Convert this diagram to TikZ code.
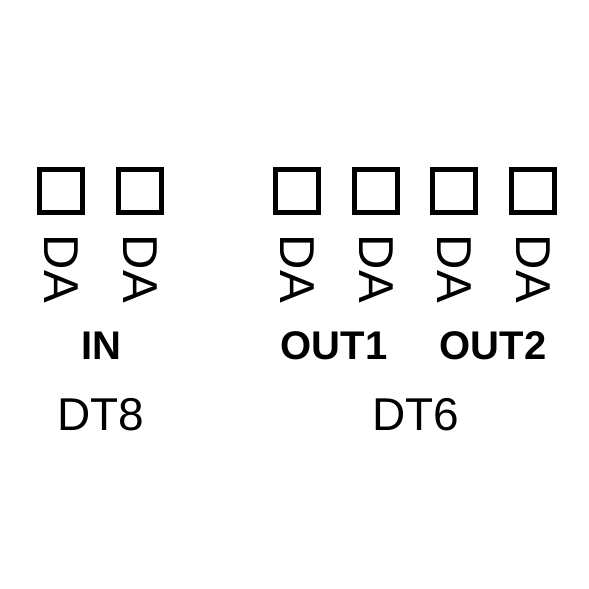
\documentclass[tikz,border=0pt]{standalone}
\usepackage{fontspec}
\setmainfont{Liberation Sans}
\usetikzlibrary{positioning}

\begin{document}
\begin{tikzpicture}[x=1pt,y=-1pt,
    pad/.style={draw, line width=5pt, minimum size=43pt, inner sep=0pt},
    padlabel/.style={rotate=-90, font=\fontsize{49}{49}\selectfont, inner sep=0pt},
    portname/.style={font=\bfseries\fontsize{40}{40}\selectfont, anchor=base},
    chipname/.style={font=\fontsize{46}{46}\selectfont, anchor=base}]
    \useasboundingbox (0,0) rectangle (589,589);

    % Pads with their labels
    \foreach \x [count=\i] in {61,140,297,376,454,533} {
        \node[pad] (pad\i) at (\x,191) {};
        \node[padlabel] (da\i) at (\x,269) {DA};
    }

    % Port names
    \node[portname] (in) at (101,359) {IN};
    \node[portname] (out1) at (334,359) {OUT1};
    \node[portname] (out2) at (493,359) {OUT2};

    % Chip names
    \node[chipname] (dt8) at (101,430) {DT8};
    \node[chipname] (dt6) at (416,430) {DT6};
\end{tikzpicture}
\end{document}
